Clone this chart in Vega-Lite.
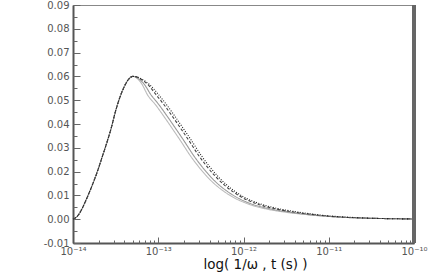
{
  "$schema": "https://vega.github.io/schema/vega-lite/v6.json",
  "width": 341,
  "height": 238,
  "autosize": {"type": "none"},
  "padding": {"left": 73, "top": 5, "right": 22, "bottom": 30},
  "background": "white",
  "config": {
    "view": {"stroke": "#888", "strokeWidth": 1},
    "axis": {"grid": false, "domainColor": "#555", "domainWidth": 2, "tickColor": "#666", "labelFont": "DejaVu Sans", "labelFontSize": 10, "labelColor": "#555", "titleFont": "DejaVu Sans", "titleFontSize": 13.5, "titleFontWeight": "normal", "titleColor": "#111"}
  },
  "data": {"values": [
    {"s":"s1","x":-14.00,"y":0.0000},{"s":"s1","x":-13.95,"y":0.0012},{"s":"s1","x":-13.90,"y":0.0040},{"s":"s1","x":-13.85,"y":0.0078},{"s":"s1","x":-13.80,"y":0.0120},{"s":"s1","x":-13.75,"y":0.0165},{"s":"s1","x":-13.70,"y":0.0215},{"s":"s1","x":-13.65,"y":0.0270},{"s":"s1","x":-13.60,"y":0.0325},{"s":"s1","x":-13.55,"y":0.0385},{"s":"s1","x":-13.50,"y":0.0455},{"s":"s1","x":-13.45,"y":0.0512},{"s":"s1","x":-13.40,"y":0.0556},{"s":"s1","x":-13.35,"y":0.0587},{"s":"s1","x":-13.30,"y":0.0600},
    {"s":"s1","x":-13.272,"y":0.0598},{"s":"s1","x":-13.243,"y":0.0590},{"s":"s1","x":-13.187,"y":0.0565},{"s":"s1","x":-13.13,"y":0.0525},{"s":"s1","x":-13.03,"y":0.0480},{"s":"s1","x":-12.93,"y":0.0430},{"s":"s1","x":-12.83,"y":0.0378},{"s":"s1","x":-12.73,"y":0.0325},{"s":"s1","x":-12.63,"y":0.0270},{"s":"s1","x":-12.53,"y":0.0222},{"s":"s1","x":-12.43,"y":0.0180},{"s":"s1","x":-12.33,"y":0.0145},{"s":"s1","x":-12.23,"y":0.0117},{"s":"s1","x":-12.13,"y":0.0094},{"s":"s1","x":-11.93,"y":0.0062},{"s":"s1","x":-11.72,"y":0.0042},{"s":"s1","x":-11.50,"y":0.0029},{"s":"s1","x":-11.28,"y":0.0020},{"s":"s1","x":-11.06,"y":0.0013},{"s":"s1","x":-10.84,"y":0.0008},{"s":"s1","x":-10.52,"y":0.0004},{"s":"s1","x":-10.00,"y":0.0001},

    {"s":"s2","x":-14.00,"y":0.0000},{"s":"s2","x":-13.95,"y":0.0012},{"s":"s2","x":-13.90,"y":0.0040},{"s":"s2","x":-13.85,"y":0.0078},{"s":"s2","x":-13.80,"y":0.0120},{"s":"s2","x":-13.75,"y":0.0165},{"s":"s2","x":-13.70,"y":0.0215},{"s":"s2","x":-13.65,"y":0.0270},{"s":"s2","x":-13.60,"y":0.0325},{"s":"s2","x":-13.55,"y":0.0385},{"s":"s2","x":-13.50,"y":0.0455},{"s":"s2","x":-13.45,"y":0.0512},{"s":"s2","x":-13.40,"y":0.0556},{"s":"s2","x":-13.35,"y":0.0587},{"s":"s2","x":-13.30,"y":0.0600},
    {"s":"s2","x":-13.265,"y":0.0598},{"s":"s2","x":-13.23,"y":0.0590},{"s":"s2","x":-13.16,"y":0.0565},{"s":"s2","x":-13.09,"y":0.0525},{"s":"s2","x":-12.99,"y":0.0480},{"s":"s2","x":-12.89,"y":0.0430},{"s":"s2","x":-12.79,"y":0.0378},{"s":"s2","x":-12.69,"y":0.0325},{"s":"s2","x":-12.59,"y":0.0270},{"s":"s2","x":-12.49,"y":0.0222},{"s":"s2","x":-12.39,"y":0.0180},{"s":"s2","x":-12.29,"y":0.0145},{"s":"s2","x":-12.19,"y":0.0117},{"s":"s2","x":-12.09,"y":0.0094},{"s":"s2","x":-11.89,"y":0.0062},{"s":"s2","x":-11.68,"y":0.0043},{"s":"s2","x":-11.47,"y":0.0030},{"s":"s2","x":-11.26,"y":0.0020},{"s":"s2","x":-11.04,"y":0.0013},{"s":"s2","x":-10.83,"y":0.0008},{"s":"s2","x":-10.51,"y":0.0004},{"s":"s2","x":-10.00,"y":0.0001},

    {"s":"s3","x":-14.00,"y":0.0000},{"s":"s3","x":-13.95,"y":0.0012},{"s":"s3","x":-13.90,"y":0.0040},{"s":"s3","x":-13.85,"y":0.0078},{"s":"s3","x":-13.80,"y":0.0120},{"s":"s3","x":-13.75,"y":0.0165},{"s":"s3","x":-13.70,"y":0.0215},{"s":"s3","x":-13.65,"y":0.0270},{"s":"s3","x":-13.60,"y":0.0325},{"s":"s3","x":-13.55,"y":0.0385},{"s":"s3","x":-13.50,"y":0.0455},{"s":"s3","x":-13.45,"y":0.0512},{"s":"s3","x":-13.40,"y":0.0556},{"s":"s3","x":-13.35,"y":0.0587},{"s":"s3","x":-13.30,"y":0.0600},
    {"s":"s3","x":-13.255,"y":0.0598},{"s":"s3","x":-13.21,"y":0.0590},{"s":"s3","x":-13.12,"y":0.0565},{"s":"s3","x":-13.03,"y":0.0525},{"s":"s3","x":-12.93,"y":0.0480},{"s":"s3","x":-12.83,"y":0.0430},{"s":"s3","x":-12.73,"y":0.0378},{"s":"s3","x":-12.63,"y":0.0325},{"s":"s3","x":-12.53,"y":0.0270},{"s":"s3","x":-12.43,"y":0.0222},{"s":"s3","x":-12.33,"y":0.0180},{"s":"s3","x":-12.23,"y":0.0145},{"s":"s3","x":-12.13,"y":0.0117},{"s":"s3","x":-12.03,"y":0.0094},{"s":"s3","x":-11.83,"y":0.0063},{"s":"s3","x":-11.63,"y":0.0044},{"s":"s3","x":-11.43,"y":0.0031},{"s":"s3","x":-11.22,"y":0.0021},{"s":"s3","x":-11.01,"y":0.0013},{"s":"s3","x":-10.80,"y":0.0008},{"s":"s3","x":-10.50,"y":0.0004},{"s":"s3","x":-10.00,"y":0.0001},

    {"s":"s4","x":-14.00,"y":0.0000},{"s":"s4","x":-13.95,"y":0.0012},{"s":"s4","x":-13.90,"y":0.0040},{"s":"s4","x":-13.85,"y":0.0078},{"s":"s4","x":-13.80,"y":0.0120},{"s":"s4","x":-13.75,"y":0.0165},{"s":"s4","x":-13.70,"y":0.0215},{"s":"s4","x":-13.65,"y":0.0270},{"s":"s4","x":-13.60,"y":0.0325},{"s":"s4","x":-13.55,"y":0.0385},{"s":"s4","x":-13.50,"y":0.0455},{"s":"s4","x":-13.45,"y":0.0512},{"s":"s4","x":-13.40,"y":0.0556},{"s":"s4","x":-13.35,"y":0.0587},{"s":"s4","x":-13.30,"y":0.0600},
    {"s":"s4","x":-13.25,"y":0.0598},{"s":"s4","x":-13.20,"y":0.0590},{"s":"s4","x":-13.10,"y":0.0565},{"s":"s4","x":-13.00,"y":0.0525},{"s":"s4","x":-12.90,"y":0.0480},{"s":"s4","x":-12.80,"y":0.0430},{"s":"s4","x":-12.70,"y":0.0378},{"s":"s4","x":-12.60,"y":0.0325},{"s":"s4","x":-12.50,"y":0.0270},{"s":"s4","x":-12.40,"y":0.0222},{"s":"s4","x":-12.30,"y":0.0180},{"s":"s4","x":-12.20,"y":0.0145},{"s":"s4","x":-12.10,"y":0.0117},{"s":"s4","x":-12.00,"y":0.0094},{"s":"s4","x":-11.80,"y":0.0064},{"s":"s4","x":-11.60,"y":0.0045},{"s":"s4","x":-11.40,"y":0.0032},{"s":"s4","x":-11.20,"y":0.0022},{"s":"s4","x":-11.00,"y":0.0014},{"s":"s4","x":-10.80,"y":0.0009},{"s":"s4","x":-10.50,"y":0.0004},{"s":"s4","x":-10.00,"y":0.0001}
  ]},
  "resolve": {"axis": {"x": "independent", "y": "independent"}},
  "layer": [
    {
      "mark": {"type": "line", "strokeWidth": 1.1, "interpolate": "monotone"},
      "encoding": {
        "x": {"field": "x", "type": "quantitative",
          "scale": {"domain": [-14, -10], "nice": false, "zero": false},
          "axis": {
            "orient": "bottom",
            "values": [-14, -13, -12, -11, -10],
            "labelExpr": "datum.value == -14 ? '10⁻¹⁴' : datum.value == -13 ? '10⁻¹³' : datum.value == -12 ? '10⁻¹²' : datum.value == -11 ? '10⁻¹¹' : '10⁻¹⁰'",
            "ticks": false,
            "labelPadding": 3,
            "labelFlush": false,
            "labelOverlap": false,
            "title": "log( 1/ω , t (s) )",
            "titleBaseline": "alphabetic",
            "titleY": 25,
            "titleX": 182
          }},
        "y": {"field": "y", "type": "quantitative",
          "scale": {"domain": [-0.01, 0.09], "nice": false, "zero": false},
          "axis": {
            "orient": "left",
            "values": [-0.01, 0, 0.01, 0.02, 0.03, 0.04, 0.05, 0.06, 0.07, 0.08, 0.09],
            "labelExpr": "datum.value < 0 ? '-' + format(-datum.value, '.2f') : format(datum.value, '.2f')",
            "ticks": false,
            "labelPadding": 4,
            "labelFlush": false,
            "labelOverlap": false,
            "title": null
          }},
        "color": {"field": "s", "type": "nominal", "legend": null,
          "scale": {"domain": ["s1", "s2", "s3", "s4"], "range": ["#bbbbbb", "#999999", "#444444", "#222222"]}},
        "strokeDash": {"field": "s", "type": "nominal", "legend": null,
          "scale": {"domain": ["s1", "s2", "s3", "s4"], "range": [[1, 0], [1, 0], [3, 2], [1, 1.5]]}}
      }
    },
    {
      "mark": {"type": "line", "opacity": 0},
      "encoding": {
        "x": {"field": "x", "type": "quantitative",
          "axis": {
            "orient": "top", "offset": -238,
            "values": [-14, -13.699, -13.523, -13.398, -13.301, -13.222, -13.155, -13.097, -13.046, -13, -12.699, -12.523, -12.398, -12.301, -12.222, -12.155, -12.097, -12.046, -12, -11.699, -11.523, -11.398, -11.301, -11.222, -11.155, -11.097, -11.046, -11, -10.699, -10.523, -10.398, -10.301, -10.222, -10.155, -10.097, -10.046, -10],
            "labels": false, "domain": false, "title": null,
            "tickSize": {"condition": {"test": "datum.value == round(datum.value)", "value": 6}, "value": 3}
          }},
        "y": {"field": "y", "type": "quantitative",
          "axis": {
            "orient": "right", "offset": -341,
            "values": [-0.01, -0.005, 0, 0.005, 0.01, 0.015, 0.02, 0.025, 0.03, 0.035, 0.04, 0.045, 0.05, 0.055, 0.06, 0.065, 0.07, 0.075, 0.08, 0.085, 0.09],
            "labels": false, "domain": false, "title": null,
            "tickSize": {"condition": {"test": "abs(datum.value*100 - round(datum.value*100)) < 0.01", "value": 7}, "value": 4}
          }}
      }
    },
    {
      "mark": {"type": "rule", "color": "#666", "strokeWidth": 3},
      "encoding": {
        "x": {"datum": -10, "type": "quantitative", "axis": null}
      }
    }
  ]
}
